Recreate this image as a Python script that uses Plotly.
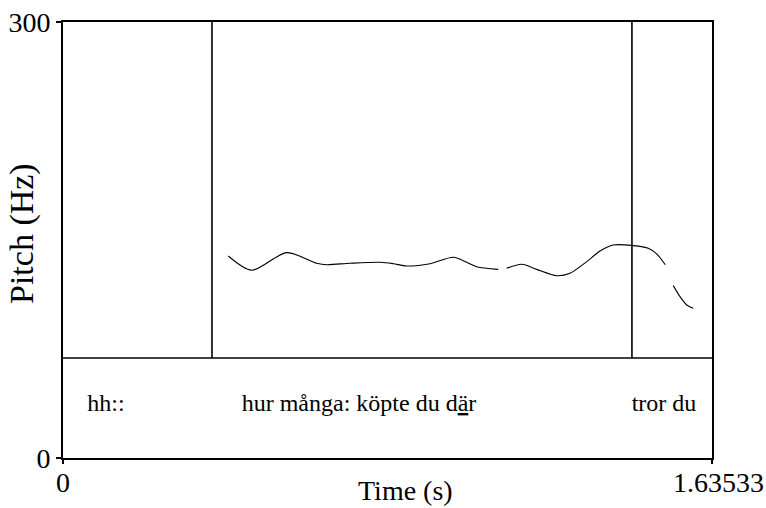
import plotly.graph_objects as go

# ---- data ----
t_max = 1.63533
y_max = 300

# pitch contour (s, Hz); None marks unvoiced gaps
pitch_time = [0.4165, 0.4755, 0.5637, 0.6392, 0.6645, 0.7232, 0.7988, 0.8323, 0.8660,
              0.9247, 0.9835, 1.0172, 1.0424, 1.0968, None,
              1.1180, 1.1558, 1.1936, 1.2440, 1.2775, 1.3196, 1.3531, 1.3866, 1.4370,
              1.4748, 1.4959, 1.5176, None,
              1.5378, 1.5547, 1.5715, 1.5882]
pitch_hz = [139.0, 129.2, 141.3, 134.0, 133.0, 134.0, 134.7, 133.7, 132.1,
            133.7, 138.1, 134.7, 131.6, 129.8, None,
            130.5, 133.3, 129.8, 125.4, 127.1, 135.1, 142.4, 146.6, 146.1,
            144.3, 140.4, 133.0, None,
            118.6, 111.0, 105.3, 103.0]

boundaries = [0.3754, 1.4336]
tier_labels = ["hh::", "hur många: köpte du d<u>ä</u>r", "tror du"]
tier_label_time = [0.1083, 0.7458, 1.5143]

x_tick_vals = [0, t_max]
x_tick_text = ["0", "1.63533"]
y_tick_vals = [0, y_max]
y_tick_text = ["0", "300"]

# ---- layout constants ----
W, H = 766, 508
ML, MR, MT, MB = 63, 54, 22, 50
plot_h = H - MT - MB
tier_top = 100 / plot_h  # paper fraction of tier height

FONT = "Liberation Serif"

fig = go.Figure()

fig.add_trace(go.Scatter(
    x=pitch_time, y=pitch_hz, mode="lines",
    line=dict(color="black", width=1.1, shape="spline", smoothing=0.8),
    connectgaps=False, hoverinfo="skip", showlegend=False,
))

fig.add_trace(go.Scatter(
    x=tier_label_time, y=[0.53] * len(tier_labels), yaxis="y2",
    mode="text", text=tier_labels,
    textfont=dict(family=FONT, size=24, color="black"),
    textposition="middle center", hoverinfo="skip", showlegend=False,
))

for b in boundaries:
    fig.add_shape(type="line", xref="x", yref="paper", x0=b, x1=b,
                  y0=tier_top, y1=1, line=dict(color="black", width=1.6))

fig.add_shape(type="line", xref="paper", yref="paper", x0=0, x1=1,
              y0=tier_top, y1=tier_top, line=dict(color="black", width=1.6))

# x tick labels (placed as annotations for exact vertical placement)
for i, (v, txt) in enumerate(zip(x_tick_vals, x_tick_text)):
    fig.add_annotation(text=txt, xref="x", yref="paper", x=v,
                       y=(H - MB - 482) / plot_h, showarrow=False,
                       xanchor="center", yanchor="middle",
                       xshift=(6 if i == len(x_tick_vals) - 1 else 0),
                       font=dict(family=FONT, size=28, color="black"))

fig.add_annotation(text="Pitch (Hz)", xref="paper", yref="paper",
                   x=(22 - ML) / (W - ML - MR), y=(H - MB - 234) / plot_h,
                   textangle=-90, showarrow=False, xanchor="center", yanchor="middle",
                   font=dict(family=FONT, size=34, color="black"))
fig.add_annotation(text="Time (s)", xref="paper", yref="paper",
                   x=(405 - ML) / (W - ML - MR), y=(H - MB - 490) / plot_h,
                   showarrow=False, xanchor="center", yanchor="middle",
                   font=dict(family=FONT, size=28, color="black"))

fig.update_layout(
    width=W, height=H,
    margin=dict(l=ML, r=MR, t=MT, b=MB, pad=0, autoexpand=False),
    paper_bgcolor="white", plot_bgcolor="white",
    font=dict(family=FONT, color="black"),
    xaxis=dict(range=[0, t_max], tickvals=x_tick_vals, showticklabels=False,
               ticks="outside", ticklen=4, tickwidth=1.6, tickcolor="black",
               showline=True, linecolor="black", linewidth=1.8, mirror=True,
               showgrid=False, zeroline=False, automargin=False),
    yaxis=dict(range=[0, y_max], tickvals=y_tick_vals, ticktext=y_tick_text,
               ticks="outside", ticklen=5, tickwidth=1.6, tickcolor="black",
               showline=True, linecolor="black", linewidth=1.8, mirror=True,
               showgrid=False, zeroline=False, automargin=False,
               tickfont=dict(family=FONT, size=28, color="black")),
    yaxis2=dict(domain=[0, tier_top], range=[0, 1], visible=False,
                anchor="x", showgrid=False, zeroline=False),
)

fig.write_html("out.html")
